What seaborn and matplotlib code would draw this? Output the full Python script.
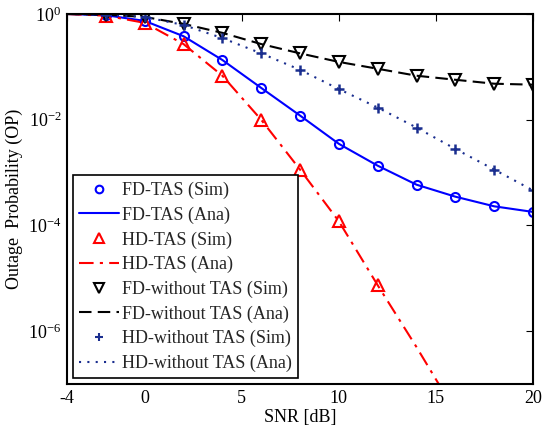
import numpy as np
import pandas as pd
import matplotlib
matplotlib.use("Agg")
import matplotlib.pyplot as plt
import seaborn as sns
from matplotlib.lines import Line2D
from matplotlib.ticker import LogFormatterSciNotation, NullLocator, FixedLocator

# ---- data ----
snr_sim = [-2, 0, 2, 4, 6, 8, 10, 12, 14, 16, 18, 20]
snr_ana = [-4, -2, 0, 2, 4, 6, 8, 10, 12, 14, 16, 18, 20]

fd_tas_sim = [0.95, 0.74, 0.38, 0.135, 0.040, 0.012, 0.0035, 0.00135, 0.00059, 0.00035, 0.00023, 0.00018]
fd_tas_ana = [1.0, 0.95, 0.74, 0.38, 0.135, 0.040, 0.012, 0.0035, 0.00135, 0.00059, 0.00035, 0.00023, 0.00018]

snr_hd_sim = [-2, 0, 2, 4, 6, 8, 10, 12]
hd_tas_sim = [0.93, 0.68, 0.27, 0.068, 0.010, 0.00114, 0.00012, 7.4e-6]
hd_tas_ana = [1.0, 0.93, 0.68, 0.27, 0.068, 0.010, 0.00114, 0.00012, 7.4e-6, 5.0e-7, 3.0e-8, 2.0e-9, 1.5e-10]

fd_wo_sim = [0.97, 0.88, 0.65, 0.44, 0.27, 0.18, 0.124, 0.092, 0.068, 0.057, 0.048, 0.046]
fd_wo_ana = [1.0, 0.97, 0.88, 0.65, 0.44, 0.27, 0.18, 0.124, 0.092, 0.068, 0.057, 0.048, 0.046]

hd_wo_sim = [0.97, 0.88, 0.62, 0.35, 0.18, 0.088, 0.038, 0.017, 0.0071, 0.0028, 0.00114, 0.00046]
hd_wo_ana = [1.0, 0.97, 0.88, 0.62, 0.35, 0.18, 0.088, 0.038, 0.017, 0.0071, 0.0028, 0.00114, 0.00046]

labels = ["FD-TAS (Sim)", "FD-TAS (Ana)", "HD-TAS (Sim)", "HD-TAS (Ana)",
          "FD-without TAS (Sim)", "FD-without TAS (Ana)",
          "HD-without TAS (Sim)", "HD-without TAS (Ana)"]
x_ticks = [-4, 0, 5, 10, 15, 20]
y_ticks = [1e0, 1e-2, 1e-4, 1e-6]

# ---- style ----
sns.set_theme(style="white")
plt.rcParams['font.family'] = ['Liberation Serif', 'DejaVu Serif']
plt.rcParams['mathtext.fontset'] = 'custom'
plt.rcParams['mathtext.rm'] = 'Liberation Serif'
plt.rcParams['mathtext.it'] = 'Liberation Serif:italic'

fig = plt.figure(figsize=(5.55, 4.38), dpi=100)
ax = fig.add_axes([67/555, 1 - 384/438, (533 - 67)/555, (384 - 14)/438])

BLUE = '#0000ff'
RED = '#ff0000'
BLACK = '#000000'
NAVY = '#1a2e8f'
ms = 6.5
mew = 1.5
DASHDOT = (0, (7, 3, 1.5, 3))
DASHED = (0, (6, 3))
DOTTED = (0, (1, 3))

sns.lineplot(x=snr_ana, y=fd_tas_ana, ax=ax, color=BLUE, lw=1.5, linestyle='-')
sns.lineplot(x=snr_ana, y=hd_tas_ana, ax=ax, color=RED, lw=1.5, linestyle=DASHDOT)
sns.lineplot(x=snr_ana, y=fd_wo_ana, ax=ax, color=BLACK, lw=1.5, linestyle=DASHED)
sns.lineplot(x=snr_ana, y=hd_wo_ana, ax=ax, color=NAVY, lw=1.5, linestyle=DOTTED)

sns.lineplot(x=snr_sim, y=fd_tas_sim, ax=ax, color=BLUE, linestyle='none', marker='o',
             markersize=ms, markerfacecolor='none', markeredgecolor=BLUE, markeredgewidth=mew)
sns.lineplot(x=snr_hd_sim, y=hd_tas_sim, ax=ax, color=RED, linestyle='none', marker='^',
             markersize=ms + 1.5, markerfacecolor='none', markeredgecolor=RED, markeredgewidth=mew)
sns.lineplot(x=snr_sim, y=fd_wo_sim, ax=ax, color=BLACK, linestyle='none', marker='v',
             markersize=ms + 1.5, markerfacecolor='none', markeredgecolor=BLACK, markeredgewidth=mew)
sns.lineplot(x=snr_sim, y=hd_wo_sim, ax=ax, color=NAVY, linestyle='none', marker='+',
             markersize=ms + 0.5, markeredgecolor=NAVY, markeredgewidth=mew + 0.3)

ax.set_yscale('log')
ax.set_xlim(-4, 20)
ax.set_ylim(1e-7, 1e0)
ax.xaxis.set_major_locator(FixedLocator(x_ticks))
ax.set_xticklabels([str(t) for t in x_ticks])
ax.yaxis.set_major_locator(FixedLocator(y_ticks))
ax.yaxis.set_major_formatter(LogFormatterSciNotation())
ax.yaxis.set_minor_locator(NullLocator())
ax.tick_params(axis='both', which='major', direction='in', length=5, width=0.8,
               top=True, right=True, labelsize=13, colors='black', pad=4)
for s in ax.spines.values():
    s.set_color('black')
    s.set_linewidth(1.5)

ax.set_xlabel('SNR [dB]', fontsize=13, color='black', labelpad=2)
ax.set_ylabel('Outage  Probability (OP)', fontsize=13, color='black', labelpad=4)

handles = [
    Line2D([], [], color=BLUE, linestyle='none', marker='o', markersize=ms - 1, markerfacecolor='none', markeredgewidth=mew),
    Line2D([], [], color=BLUE, lw=1.5, linestyle='-'),
    Line2D([], [], color=RED, linestyle='none', marker='^', markersize=ms, markerfacecolor='none', markeredgewidth=mew),
    Line2D([], [], color=RED, lw=1.5, linestyle=DASHDOT),
    Line2D([], [], color=BLACK, linestyle='none', marker='v', markersize=ms, markerfacecolor='none', markeredgewidth=mew),
    Line2D([], [], color=BLACK, lw=1.5, linestyle=DASHED),
    Line2D([], [], color=NAVY, linestyle='none', marker='+', markersize=ms - 0.5, markeredgewidth=mew),
    Line2D([], [], color=NAVY, lw=1.5, linestyle=DOTTED),
]
leg = ax.legend(handles, labels, loc='lower left', bbox_to_anchor=(0.012, 0.015), fontsize=13,
                frameon=True, fancybox=False, edgecolor='black', framealpha=1,
                handlelength=2.2, handletextpad=0.2, labelspacing=0.41, borderpad=0.35,
                borderaxespad=0.0)
leg.get_frame().set_linewidth(1.2)

fig.savefig('out.png', dpi=100)
